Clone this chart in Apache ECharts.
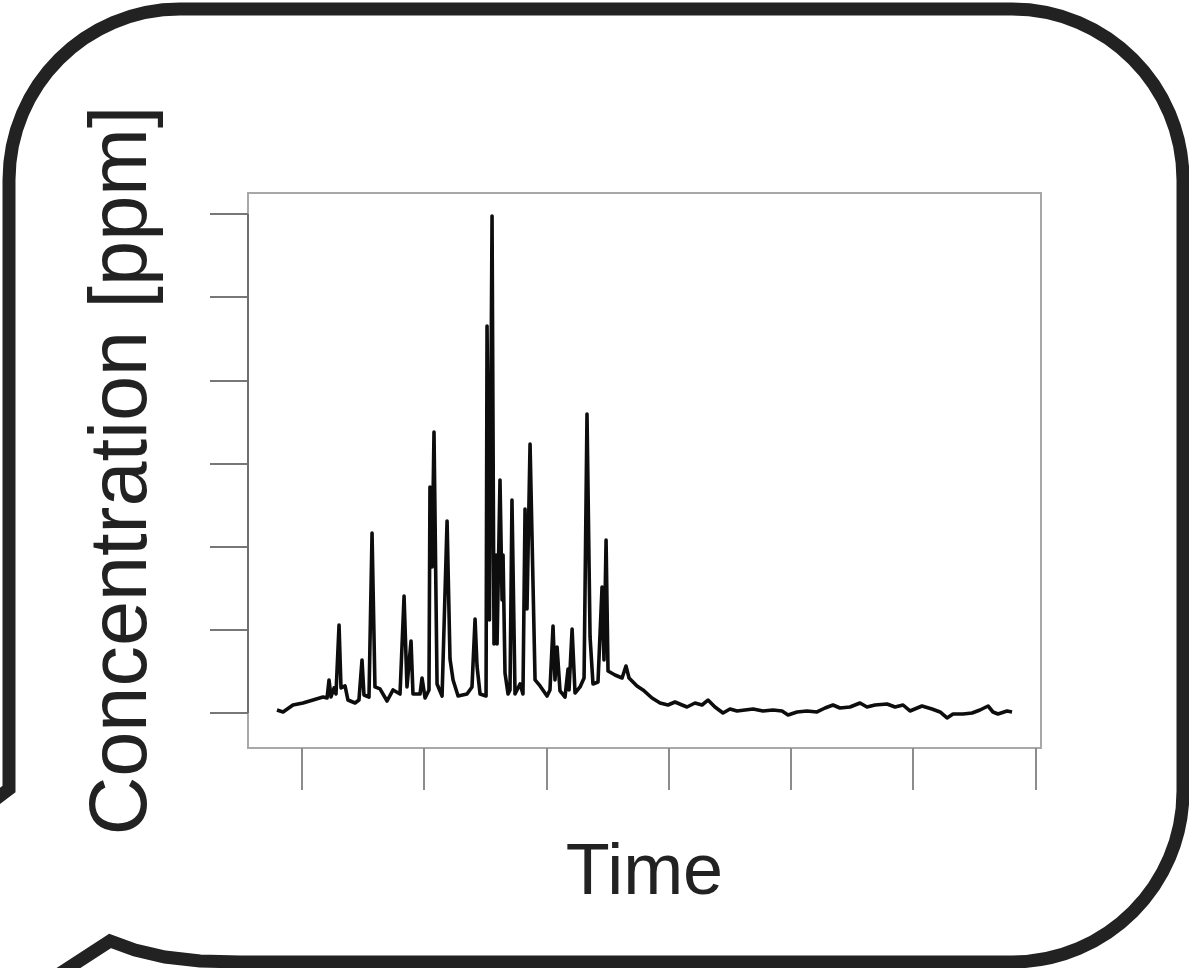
<!DOCTYPE html>
<html>
<head>
<meta charset="utf-8">
<title>Concentration over time</title>
<script src="https://cdn.jsdelivr.net/npm/echarts@6/dist/echarts.min.js"></script>
<style>
  html, body { margin: 0; padding: 0; background: #fff; }
  #chart { width: 1189px; height: 968px; }
</style>
</head>
<body>
<div id="chart"></div>
<script>
// time (arbitrary units, ticks every 100) and concentration (ticks every 100)
const times = [
  79.5, 84.5, 92.6, 100.8, 109.0, 117.2, 120.5, 122.1, 123.7, 126.2,
  127.8, 130.3, 131.9, 135.2, 137.6, 143.4, 146.6, 149.1, 150.7, 154.8,
  157.3, 159.7, 163.8, 169.6, 174.5, 180.2, 183.5, 185.9, 189.2, 190.8,
  196.6, 198.2, 200.7, 203.9, 204.7, 206.4, 208.0, 210.5, 214.6, 218.7,
  221.1, 223.6, 227.7, 235.0, 239.1, 241.6, 243.2, 245.7, 250.6, 251.4,
  253.4, 255.5, 257.1, 258.8, 259.6, 262.0, 263.7, 264.5, 266.1, 268.6,
  270.2, 271.8, 274.3, 278.4, 280.8, 282.5, 284.1, 286.6, 290.7, 294.8,
  300.5, 302.9, 305.4, 307.0, 308.7, 311.1, 315.2, 317.7, 318.5, 321.0,
  323.4, 327.5, 330.8, 333.2, 335.7, 338.1, 342.2, 345.5, 347.1, 348.8,
  350.4, 356.1, 361.9, 365.1, 367.6, 374.1, 379.0, 386.4, 393.0, 399.5,
  405.2, 411.0, 415.0, 421.6, 427.3, 432.2, 437.9, 444.5, 450.2, 456.0,
  462.5, 469.1, 477.2, 485.4, 492.8, 497.7, 505.1, 513.2, 521.4, 528.0,
  534.5, 540.2, 548.4, 556.6, 562.3, 568.9, 578.7, 585.3, 591.8, 597.5,
  607.3, 615.5, 622.1, 627.8, 632.7, 640.9, 648.3, 654.8, 661.4, 665.4,
  669.5, 676.9, 681.0
];
const conc = [
  3.6, 1.2, 9.6, 12.0, 15.6, 19.2, 18.0, 39.7, 19.2, 30.1,
  22.8, 105.8, 30.1, 32.5, 15.6, 12.0, 15.6, 63.7, 21.6, 19.2,
  216.4, 31.3, 28.9, 14.4, 27.7, 22.8, 140.7, 31.3, 86.6, 22.8,
  22.8, 42.1, 18.0, 27.7, 271.7, 175.5, 337.9, 34.9, 20.4, 230.9,
  64.9, 39.7, 20.4, 22.8, 31.3, 113.0, 56.5, 22.8, 20.4, 465.3,
  111.8, 597.6, 83.0, 190.0, 83.0, 280.2, 135.9, 190.0, 48.1, 22.8,
  27.7, 256.1, 22.8, 34.9, 22.8, 245.3, 125.0, 323.4, 39.7, 32.5,
  20.4, 27.7, 104.6, 39.7, 79.4, 26.5, 19.2, 52.9, 27.7, 101.0,
  24.0, 31.3, 42.1, 359.5, 91.4, 34.9, 37.3, 151.5, 63.7, 208.0,
  50.5, 45.7, 42.1, 56.5, 42.1, 32.5, 27.7, 18.0, 12.0, 9.6,
  13.2, 9.6, 7.2, 12.0, 9.6, 15.6, 7.2, 0.0, 4.8, 2.4,
  3.6, 4.8, 2.4, 3.6, 2.4, -2.4, 1.2, 2.4, 1.2, 6.0,
  9.6, 6.0, 7.2, 12.0, 7.2, 9.6, 10.8, 7.2, 9.6, 2.4,
  8.4, 4.8, 1.2, -6.0, -1.2, -1.2, 0.0, 3.6, 8.4, 1.2,
  -1.2, 2.4, 1.2
];
const timeTicks = [100, 200, 300, 400, 500, 600, 700];
const concTicks = [0, 100, 200, 300, 400, 500, 600];

const chart = echarts.init(document.getElementById('chart'));

const xMin = 55.8, xMax = 704.7;
const yMin = -42.1, yMax = 625.2;

// speech bubble frame
const frameStyle = { fill: null, stroke: '#222', lineWidth: 13, lineJoin: 'miter', lineCap: 'butt' };
const frame = [
  { type: 'polyline', shape: { points: [[-25, 815], [9, 789], [9, 180]] } },
  { type: 'bezierCurve', shape: { x1: 9, y1: 180, cpx1: 9, cpy1: 85.6, cpx2: 85.6, cpy2: 9, x2: 180, y2: 9 } },
  { type: 'line', shape: { x1: 180, y1: 9, x2: 1012, y2: 9 } },
  { type: 'bezierCurve', shape: { x1: 1012, y1: 9, cpx1: 1106.4, cpy1: 9, cpx2: 1183, cpy2: 85.6, x2: 1183, y2: 180 } },
  { type: 'line', shape: { x1: 1183, y1: 180, x2: 1183, y2: 791 } },
  { type: 'bezierCurve', shape: { x1: 1183, y1: 791, cpx1: 1183, cpy1: 885.4, cpx2: 1106.4, cpy2: 962, x2: 1012, y2: 962 } },
  { type: 'polyline', shape: { points: [[1012, 962], [240, 962], [200, 961], [165, 957], [135, 950], [110, 941], [50, 980]] } }
].map(el => Object.assign(el, { silent: true, style: frameStyle }));

chart.setOption({
  animation: false,
  textStyle: { fontFamily: 'Liberation Sans' },
  grid: {
    left: 248, top: 193, width: 793, height: 555,
    show: true, borderColor: '#a8a8a8', borderWidth: 2
  },
  graphic: frame,
  xAxis: {
    type: 'value',
    min: xMin, max: xMax,
    name: 'Time',
    nameLocation: 'middle',
    nameGap: 90,
    nameTextStyle: { fontSize: 72, color: '#222', fontFamily: 'Liberation Sans' },
    axisLine: { show: false, onZero: false },
    axisTick: { show: true, length: 42, customValues: timeTicks, lineStyle: { color: '#8c8c8c', width: 2 } },
    axisLabel: { show: false },
    splitLine: { show: false }
  },
  yAxis: {
    type: 'value',
    min: yMin, max: yMax,
    name: 'Concentration [ppm]',
    nameLocation: 'middle',
    nameRotate: 90,
    nameGap: 84,
    nameTextStyle: { fontSize: 81, color: '#222', fontFamily: 'Liberation Sans' },
    axisLine: { show: false, onZero: false },
    axisTick: { show: true, length: 38, customValues: concTicks, lineStyle: { color: '#777', width: 2 } },
    axisLabel: { show: false },
    splitLine: { show: false }
  },
  series: [{
    type: 'line',
    data: times.map((t, i) => [t, conc[i]]),
    showSymbol: false,
    sampling: null,
    lineStyle: { color: '#0d0d0d', width: 3.6, join: 'round' },
    // R draws the axis line only between the first and last tick
    markLine: {
      silent: true,
      symbol: 'none',
      label: { show: false },
      lineStyle: { color: '#6e6e6e', width: 2, type: 'solid' },
      data: [[{ coord: [xMin, concTicks[0]] }, { coord: [xMin, concTicks[concTicks.length - 1]] }]]
    }
  }]
});
</script>
</body>
</html>
